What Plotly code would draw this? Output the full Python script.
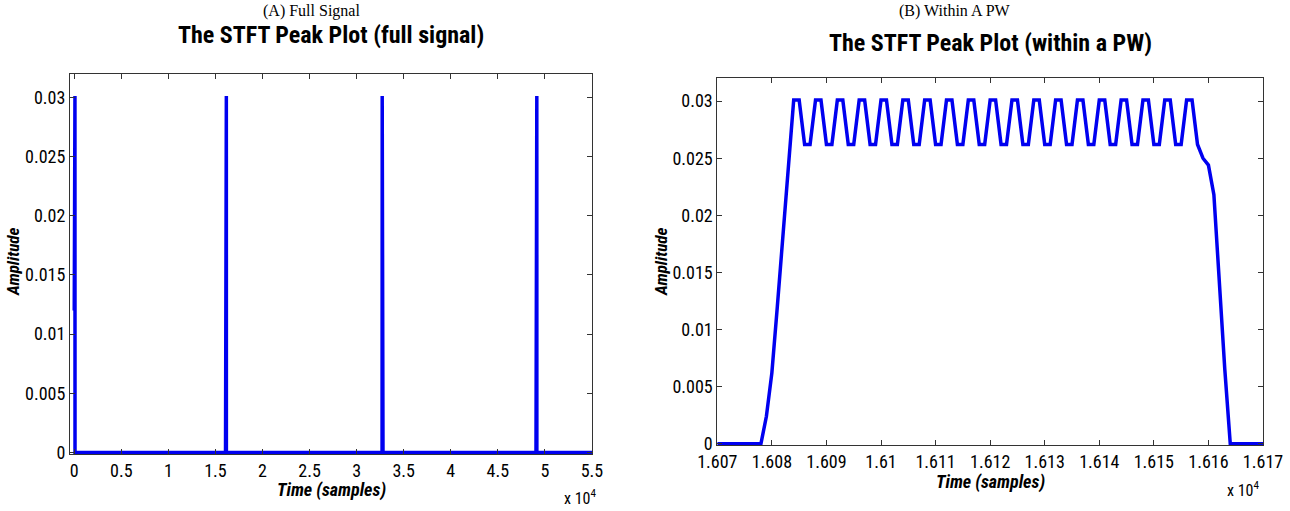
import plotly.graph_objects as go

W, H = 1290, 511

# ---- (B) one pulse width, sample-by-sample amplitude
pw_samples = list(range(16070, 16171))
pw_amplitude = [
    0, 0, 0, 0, 0, 0, 0, 0, 0,                       # 16070-16078
    0.0024, 0.0062, 0.0120, 0.0180, 0.0242,          # 16079-16083 rise
    0.0301, 0.0301, 0.0262, 0.0262,                  # 16084-16087
    0.0301, 0.0301, 0.0262, 0.0262,
    0.0301, 0.0301, 0.0262, 0.0262,
    0.0301, 0.0301, 0.0262, 0.0262,
    0.0301, 0.0301, 0.0262, 0.0262,
    0.0301, 0.0301, 0.0262, 0.0262,
    0.0301, 0.0301, 0.0262, 0.0262,
    0.0301, 0.0301, 0.0262, 0.0262,
    0.0301, 0.0301, 0.0262, 0.0262,
    0.0301, 0.0301, 0.0262, 0.0262,
    0.0301, 0.0301, 0.0262, 0.0262,
    0.0301, 0.0301, 0.0262, 0.0262,
    0.0301, 0.0301, 0.0262, 0.0262,
    0.0301, 0.0301, 0.0262, 0.0262,
    0.0301, 0.0301, 0.0262, 0.0262,
    0.0301, 0.0301, 0.0262, 0.0262,
    0.0301, 0.0301, 0.0262, 0.0262,
    0.0301, 0.0301, 0.0262, 0.0262,                  # ... 16155
    0.0301, 0.0301,                                  # 16156-16157
    0.0262, 0.0250, 0.0244, 0.0218, 0.0141, 0.0065,  # 16158-16163 fall
    0, 0, 0, 0, 0, 0, 0,                             # 16164-16170
]

# ---- (A) full signal: onset sample of each pulse (first one is cut at sample 0)
pulse_onsets = [-11, 16070, 32700, 49050]
signal_end = 55000

# ---- tick labels
a_xticks = [0, 5000, 10000, 15000, 20000, 25000, 30000, 35000, 40000, 45000, 50000, 55000]
a_xtext = ["0", "0.5", "1", "1.5", "2", "2.5", "3", "3.5", "4", "4.5", "5", "5.5"]
b_xticks = [16070, 16080, 16090, 16100, 16110, 16120, 16130, 16140, 16150, 16160, 16170]
b_xtext = ["1.607", "1.608", "1.609", "1.61", "1.611", "1.612", "1.613",
           "1.614", "1.615", "1.616", "1.617"]
yticks = [0, 0.005, 0.01, 0.015, 0.02, 0.025, 0.03]
ytext = ["0", "0.005", "0.01", "0.015", "0.02", "0.025", "0.03"]

# build the full-signal vertex list from the pulse shape
full_x, full_y = [], []
for onset in pulse_onsets:
    for s, a in zip(pw_samples, pw_amplitude):
        t = onset + (s - pw_samples[0])
        if t >= 0:
            full_x.append(t)
            full_y.append(a)
full_x.append(signal_end)
full_y.append(0)

BLUE = "rgb(0,0,240)"
NARROW = "Liberation Sans Narrow, Arial Narrow, Roboto Condensed, DejaVu Sans Condensed, Liberation Sans, Arial"
SERIF = "Liberation Serif, Times New Roman, serif"

fig = go.Figure()
fig.add_trace(go.Scatter(x=full_x, y=full_y, mode="lines", xaxis="x", yaxis="y",
                         line=dict(color=BLUE, width=3.5), showlegend=False, hoverinfo="skip"))
fig.add_trace(go.Scatter(x=pw_samples, y=pw_amplitude, mode="lines", xaxis="x2", yaxis="y2",
                         line=dict(color=BLUE, width=3.5), showlegend=False, hoverinfo="skip"))

def px(x):
    return x / W

def py(y):
    return 1 - y / H

axis_common = dict(showline=True, mirror="ticks", linecolor="#333", linewidth=1,
                   ticks="inside", ticklen=5, tickcolor="#333", showgrid=False,
                   zeroline=False, automargin=False,
                   tickfont=dict(family=NARROW, size=18, color="black"))

fig.update_layout(
    width=W, height=H, margin=dict(l=0, r=0, t=0, b=0, autoexpand=False),
    paper_bgcolor="white", plot_bgcolor="white",
    xaxis=dict(domain=[px(70), px(592)], range=[-450, 55000], tickvals=a_xticks,
               ticktext=a_xtext, anchor="y", **axis_common),
    yaxis=dict(domain=[py(454), py(73.5)], range=[-0.00012, 0.032], tickvals=yticks,
               ticktext=ytext, anchor="x", **axis_common),
    xaxis2=dict(domain=[px(717.3), px(1263)], range=[16070, 16170], tickvals=b_xticks,
                ticktext=b_xtext, anchor="y2", **axis_common),
    yaxis2=dict(domain=[py(445), py(78.3)], range=[-0.00012, 0.032], tickvals=yticks,
                ticktext=ytext, anchor="x2", **axis_common),
)

def ann(text, x, y, font, size, bold=False, italic=False, angle=0, color="black"):
    t = text
    if bold:
        t = "<b>" + t + "</b>"
    if italic:
        t = "<i>" + t + "</i>"
    fig.add_annotation(text=t, x=px(x), y=py(y), xref="paper", yref="paper",
                       showarrow=False, xanchor="center", yanchor="middle",
                       textangle=angle, font=dict(family=font, size=size, color=color))

# panel captions
ann("(A) Full Signal", 311, 11, SERIF, 16)
ann("(B) Within A PW", 955, 11, SERIF, 16)
# titles
ann("The STFT Peak Plot (full signal)", 331, 35, NARROW, 24, bold=True)
ann("The STFT Peak Plot (within a PW)", 990, 43, NARROW, 24, bold=True)
# axis titles
ann("Time (samples)", 331, 490, NARROW, 18, bold=True, italic=True)
ann("Time (samples)", 990, 482, NARROW, 18, bold=True, italic=True)
ann("Amplitude", 13, 262, NARROW, 17, bold=True, italic=True, angle=-90)
ann("Amplitude", 661, 262, NARROW, 17, bold=True, italic=True, angle=-90)
# exponent labels
ann("x 10<sup>4</sup>", 580, 497, NARROW, 16)
ann("x 10<sup>4</sup>", 1243, 489, NARROW, 16)

# remove the browser's default 8 px page margin so the figure fills the window
fig.write_html("out.html", config={"displayModeBar": False, "staticPlot": True},
               post_script="document.body.style.margin='0';document.body.style.overflow='hidden';")
